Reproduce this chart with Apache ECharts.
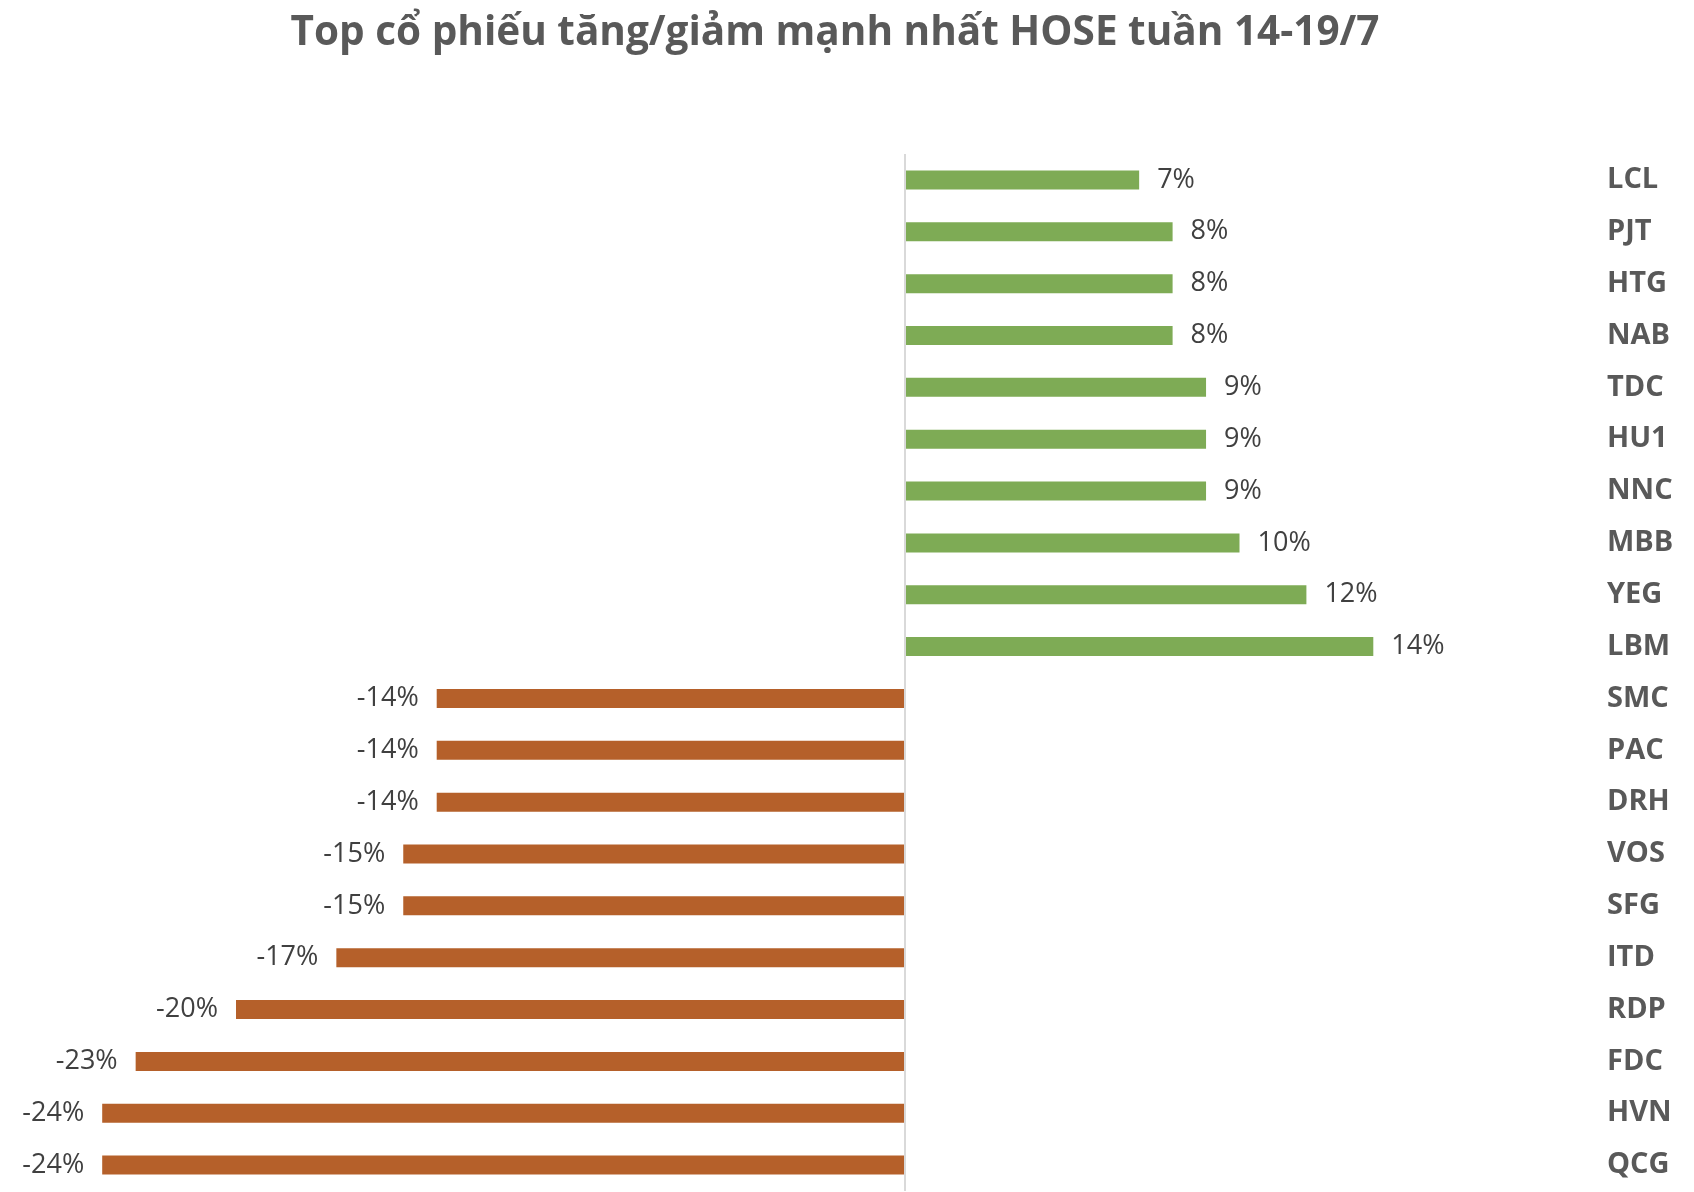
<!DOCTYPE html>
<html>
<head>
<meta charset="utf-8">
<script src="https://cdn.jsdelivr.net/npm/echarts@6/dist/echarts.min.js"></script>
<style>
html,body{margin:0;padding:0;background:#fff;}
#chart{width:1694px;height:1192px;}
</style>
</head>
<body>
<div id="chart"></div>
<script>
const titleText = 'Top cổ phiếu tăng/giảm mạnh nhất HOSE tuần 14-19/7';
const categories = ['LCL','PJT','HTG','NAB','TDC','HU1','NNC','MBB','YEG','LBM',
  'SMC','PAC','DRH','VOS','SFG','ITD','RDP','FDC','HVN','QCG'];
const changes = [7, 8, 8, 8, 9, 9, 9, 10, 12, 14,
  -14, -14, -14, -15, -15, -17, -20, -23, -24, -24];

const GREEN = '#7eab55';
const ORANGE = '#b5602a';

const chart = echarts.init(document.getElementById('chart'), null, {renderer: 'canvas'});
const option = {
  backgroundColor: '#ffffff',
  animation: false,
  title: {
    text: titleText,
    left: 830,
    textAlign: 'center',
    top: 8,
    textStyle: {
      fontFamily: 'Open Sans',
      fontWeight: 'bold',
      fontSize: 40.5,
      color: '#595959'
    }
  },
  grid: {
    left: 68.75,
    right: 120,
    top: 154,
    bottom: 1,
    containLabel: false
  },
  xAxis: {
    type: 'value',
    min: -25,
    max: 20,
    show: false
  },
  yAxis: {
    type: 'category',
    data: categories,
    inverse: true,
    position: 'right',
    axisLine: {show: false},
    axisTick: {show: false},
    splitLine: {show: false},
    axisLabel: {
      margin: 33,
      fontFamily: 'Open Sans',
      fontWeight: 'bold',
      fontSize: 29,
      color: '#595959',
      align: 'left'
    }
  },
  series: [{
    type: 'bar',
    data: changes.map(v => ({
      value: v,
      itemStyle: {color: v >= 0 ? GREEN : ORANGE},
      label: {position: v >= 0 ? 'right' : 'left'}
    })),
    barWidth: 19,
    label: {
      show: true,
      distance: 18,
      formatter: p => p.value + '%',
      fontFamily: 'Open Sans',
      fontSize: 27,
      color: '#404040'
    },
    markLine: {
      silent: true,
      symbol: 'none',
      label: {show: false},
      lineStyle: {color: '#d9d9d9', width: 2, type: 'solid'},
      data: [{xAxis: 0}]
    }
  }]
};
chart.setOption(option);
</script>
</body>
</html>
